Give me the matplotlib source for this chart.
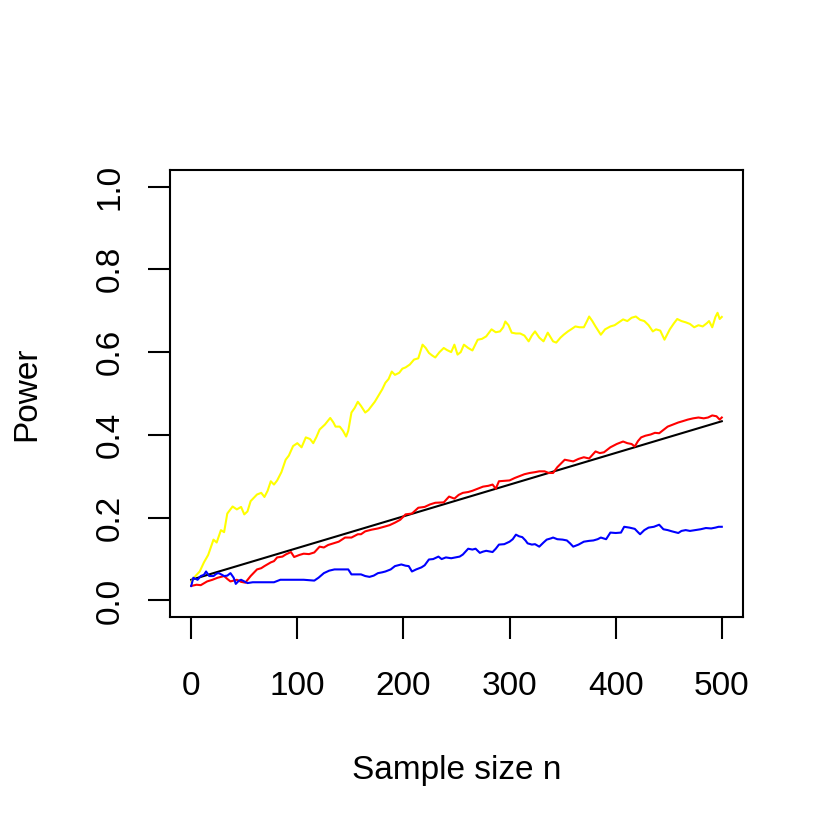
import matplotlib
matplotlib.use('Agg')
import matplotlib.pyplot as plt

# Power vs sample size
yellow_n = [0, 4, 8, 12, 16, 21, 24, 28, 31, 34, 39, 43, 47, 50, 53, 56, 62, 66, 69, 72, 75, 78, 81, 85, 89, 92,
            96, 100, 104, 108, 112, 115, 118, 121, 126, 131, 134, 136, 140, 143, 146, 148, 151, 154, 157, 160,
            164, 167, 170, 173, 176, 180, 183, 186, 189, 192, 196, 199, 202, 206, 210, 214, 218, 221, 224, 227,
            230, 234, 238, 241, 245, 248, 251, 254, 257, 261, 265, 270, 274, 278, 283, 287, 291, 294, 296, 299,
            302, 306, 310, 314, 318, 321, 324, 328, 332, 336, 341, 344, 348, 351, 355, 358, 362, 366, 370, 373,
            375, 378, 381, 384, 386, 390, 395, 399, 403, 407, 411, 415, 419, 423, 427, 431, 435, 438, 442, 446,
            449, 451, 455, 458, 462, 466, 470, 474, 478, 482, 486, 488, 491, 494, 496, 498, 500]
yellow_p = [0.045, 0.059, 0.07, 0.092, 0.11, 0.147, 0.14, 0.17, 0.165, 0.21, 0.227, 0.22, 0.226, 0.208, 0.215,
            0.24, 0.256, 0.26, 0.25, 0.265, 0.288, 0.28, 0.29, 0.31, 0.34, 0.35, 0.373, 0.38, 0.37, 0.394, 0.39,
            0.38, 0.395, 0.413, 0.425, 0.441, 0.43, 0.42, 0.42, 0.41, 0.396, 0.41, 0.454, 0.465, 0.48, 0.47,
            0.454, 0.46, 0.47, 0.48, 0.493, 0.51, 0.526, 0.535, 0.553, 0.545, 0.55, 0.56, 0.563, 0.57, 0.582,
            0.585, 0.618, 0.61, 0.598, 0.592, 0.587, 0.6, 0.61, 0.605, 0.6, 0.618, 0.594, 0.6, 0.618, 0.61,
            0.604, 0.63, 0.632, 0.638, 0.655, 0.648, 0.65, 0.66, 0.674, 0.665, 0.647, 0.645, 0.645, 0.64, 0.626,
            0.64, 0.65, 0.635, 0.626, 0.647, 0.626, 0.623, 0.635, 0.642, 0.65, 0.655, 0.662, 0.66, 0.66, 0.675,
            0.686, 0.675, 0.662, 0.65, 0.642, 0.655, 0.662, 0.665, 0.672, 0.679, 0.675, 0.683, 0.686, 0.678,
            0.675, 0.665, 0.65, 0.655, 0.652, 0.63, 0.645, 0.655, 0.67, 0.68, 0.675, 0.672, 0.668, 0.66, 0.665,
            0.662, 0.67, 0.675, 0.66, 0.685, 0.695, 0.68, 0.685]

red_n = [0, 5, 9, 15, 20, 25, 31, 34, 37, 43, 47, 51, 56, 62, 66, 69, 75, 78, 81, 86, 89, 94, 97, 102, 106, 111,
         116, 121, 125, 129, 134, 139, 145, 151, 157, 160, 164, 170, 176, 183, 187, 192, 197, 202, 208, 214, 220,
         225, 230, 238, 243, 248, 252, 256, 261, 265, 270, 275, 280, 284, 287, 290, 295, 300, 305, 309, 314, 319,
         324, 328, 333, 337, 341, 345, 352, 356, 360, 365, 370, 375, 381, 385, 389, 395, 401, 407, 411, 415, 418,
         421, 424, 428, 433, 437, 441, 445, 449, 454, 459, 463, 468, 473, 478, 483, 487, 491, 495, 498, 500]
red_p = [0.035, 0.038, 0.037, 0.046, 0.05, 0.055, 0.059, 0.052, 0.046, 0.05, 0.045, 0.043, 0.059, 0.075, 0.078,
         0.083, 0.092, 0.095, 0.104, 0.106, 0.111, 0.117, 0.105, 0.11, 0.113, 0.112, 0.116, 0.13, 0.128, 0.134,
         0.138, 0.142, 0.152, 0.152, 0.16, 0.16, 0.167, 0.171, 0.174, 0.179, 0.182, 0.188, 0.195, 0.208, 0.21,
         0.224, 0.226, 0.232, 0.236, 0.237, 0.251, 0.246, 0.255, 0.26, 0.262, 0.265, 0.27, 0.275, 0.277, 0.28,
         0.27, 0.288, 0.289, 0.29, 0.296, 0.30, 0.305, 0.308, 0.31, 0.312, 0.312, 0.308, 0.308, 0.322, 0.34,
         0.338, 0.336, 0.342, 0.346, 0.343, 0.36, 0.356, 0.358, 0.37, 0.378, 0.384, 0.38, 0.378, 0.372, 0.385,
         0.394, 0.398, 0.401, 0.405, 0.404, 0.412, 0.42, 0.425, 0.43, 0.433, 0.437, 0.44, 0.442, 0.44, 0.442,
         0.447, 0.445, 0.437, 0.442]

blue_n = [0, 2, 6, 9, 12, 14, 17, 21, 24, 26, 29, 31, 34, 37, 40, 42, 45, 47, 50, 53, 58, 65, 78, 84, 92, 100,
          106, 116, 120, 125, 130, 135, 142, 148, 151, 156, 160, 164, 168, 172, 176, 180, 183, 188, 192, 198, 202,
          205, 208, 212, 217, 220, 224, 228, 233, 236, 240, 245, 249, 253, 256, 261, 265, 268, 272, 275, 278, 284,
          287, 290, 295, 300, 303, 306, 309, 312, 315, 317, 321, 324, 328, 332, 335, 339, 341, 345, 350, 354, 357,
          360, 365, 370, 375, 379, 383, 386, 391, 395, 400, 405, 408, 413, 418, 421, 423, 427, 431, 436, 441, 445,
          449, 453, 459, 462, 466, 470, 475, 480, 485, 490, 494, 497, 500]
blue_p = [0.035, 0.055, 0.05, 0.059, 0.062, 0.07, 0.059, 0.059, 0.065, 0.066, 0.062, 0.059, 0.06, 0.066, 0.055,
          0.04, 0.048, 0.05, 0.046, 0.042, 0.044, 0.044, 0.044, 0.05, 0.05, 0.05, 0.05, 0.048, 0.055, 0.066,
          0.072, 0.075, 0.075, 0.075, 0.063, 0.063, 0.063, 0.059, 0.057, 0.06, 0.066, 0.068, 0.07, 0.075, 0.083,
          0.087, 0.084, 0.083, 0.07, 0.075, 0.08, 0.085, 0.099, 0.1, 0.106, 0.1, 0.104, 0.102, 0.104, 0.106,
          0.111, 0.125, 0.123, 0.125, 0.115, 0.118, 0.12, 0.117, 0.125, 0.135, 0.136, 0.142, 0.148, 0.159, 0.155,
          0.153, 0.145, 0.138, 0.135, 0.136, 0.13, 0.14, 0.147, 0.15, 0.152, 0.148, 0.147, 0.145, 0.138, 0.13,
          0.135, 0.142, 0.144, 0.145, 0.148, 0.152, 0.148, 0.164, 0.163, 0.164, 0.178, 0.176, 0.173, 0.165, 0.16,
          0.17, 0.176, 0.178, 0.183, 0.172, 0.17, 0.167, 0.163, 0.168, 0.17, 0.168, 0.17, 0.172, 0.175, 0.174,
          0.176, 0.178, 0.178]

# straight reference line
black_n = [0, 500]
black_p = [0.05, 0.433]

x_ticks = [0, 100, 200, 300, 400, 500]
y_ticks = [0.0, 0.2, 0.4, 0.6, 0.8, 1.0]

plt.rcParams['font.family'] = ['Liberation Sans', 'DejaVu Sans']
plt.rcParams['font.size'] = 24

fig = plt.figure(figsize=(8.3, 8.3), dpi=100)
ax = fig.add_axes([0.2048, 0.2566, 0.6904, 0.5386])

ax.plot(black_n, black_p, color='black', lw=1.5)
ax.plot(yellow_n, yellow_p, color='yellow', lw=1.5)
ax.plot(red_n, red_p, color='red', lw=1.5)
ax.plot(blue_n, blue_p, color='blue', lw=1.5)

ax.set_xlim(-20, 520)
ax.set_ylim(-0.04, 1.04)
ax.set_xticks(x_ticks)
ax.set_xticklabels([str(t) for t in x_ticks])
ax.set_yticks(y_ticks)
ax.set_yticklabels(['%.1f' % t for t in y_ticks], rotation=90, va='center')

for s in ax.spines.values():
    s.set_linewidth(1.5)
ax.tick_params(direction='out', length=16, width=1.5)
ax.tick_params(axis='x', pad=23)
ax.tick_params(axis='y', pad=16)

ax.set_xlabel('Sample size n', labelpad=38)
ax.set_ylabel('Power', labelpad=38)

fig.savefig('out.png', dpi=100)
